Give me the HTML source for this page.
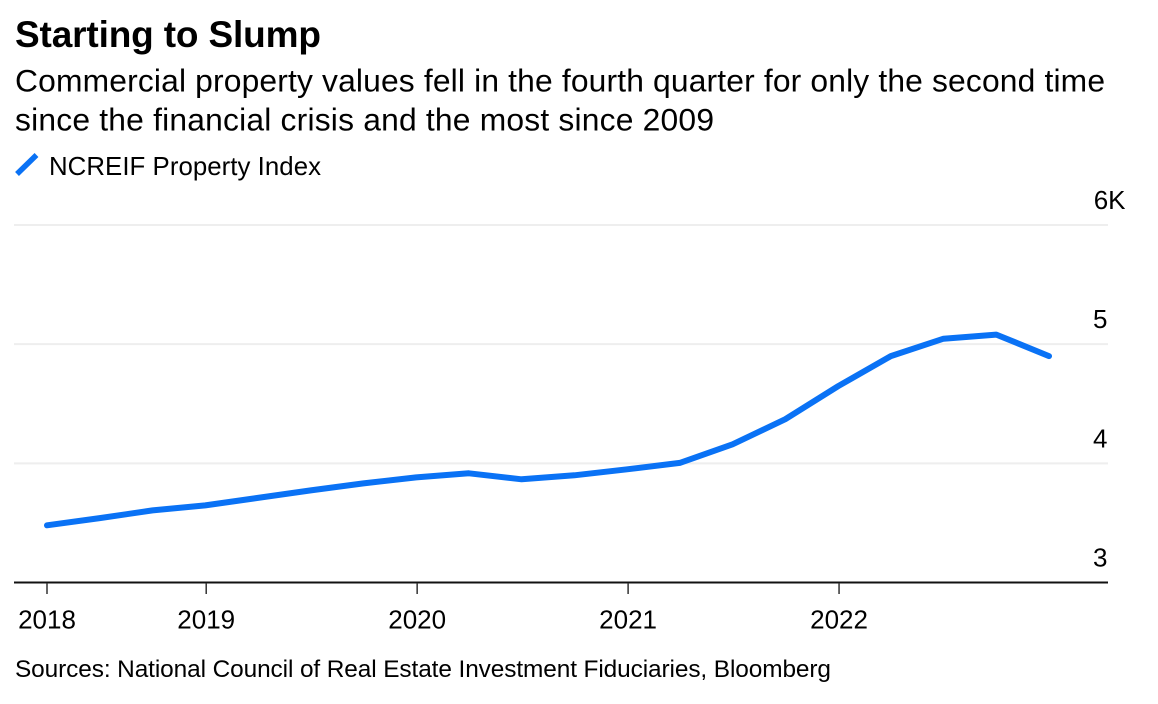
<!DOCTYPE html>
<html lang="en">
<head>
<meta charset="utf-8">
<title>Starting to Slump</title>
<style>
html,body{margin:0;padding:0;background:#fff;}
body{width:1158px;height:704px;overflow:hidden;}
svg{display:block;font-family:"Liberation Sans",Arial,sans-serif;fill:#000;}
</style>
</head>
<body>
<svg id="chart" width="1158" height="704" viewBox="0 0 1158 704" xmlns="http://www.w3.org/2000/svg">
  <rect x="0" y="0" width="1158" height="704" fill="#fff"/>
  <text x="15" y="47" font-size="37" font-weight="700" textLength="306" lengthAdjust="spacing">Starting to Slump</text>
  <text x="15" y="91.5" font-size="31.8" textLength="1090" lengthAdjust="spacing">Commercial property values fell in the fourth quarter for only the second time</text>
  <text x="15" y="130.5" font-size="31.8" textLength="699" lengthAdjust="spacing">since the financial crisis and the most since 2009</text>
  <line x1="17" y1="174" x2="36.5" y2="155" stroke="#0a72f5" stroke-width="5.5"/>
  <text x="49" y="175" font-size="25.8" textLength="272" lengthAdjust="spacing">NCREIF Property Index</text>
  <g id="grid"></g>
  <g id="y-labels"></g>
  <line x1="14" y1="582.5" x2="1108" y2="582.5" stroke="#111" stroke-width="2"/>
  <g id="x-axis"></g>
  <path id="series" fill="none" stroke="#0a72f5" stroke-width="6" stroke-linecap="round" stroke-linejoin="round"/>
  <text x="15" y="677" font-size="24.4" textLength="816" lengthAdjust="spacing">Sources: National Council of Real Estate Investment Fiduciaries, Bloomberg</text>
</svg>
<script>
const quarters = ["2018Q2","2018Q3","2018Q4","2019Q1","2019Q2","2019Q3","2019Q4","2020Q1","2020Q2","2020Q3","2020Q4","2021Q1","2021Q2","2021Q3","2021Q4","2022Q1","2022Q2","2022Q3","2022Q4","2023Q1"];
const indexValues = [3480,3540,3605,3647,3710,3773,3832,3882,3916,3866,3900,3950,4004,4160,4370,4647,4900,5046,5080,4900];
const yTicks = [3000,4000,5000,6000];
const yTickLabels = ["3","4","5","6K"];
const xTickQuarters = ["2018Q2","2019Q1","2020Q1","2021Q1","2022Q1"];
const xTickLabels = ["2018","2019","2020","2021","2022"];

const SVG_NS = "http://www.w3.org/2000/svg";
function xScale(i){ return 47 + i * (1049 - 47) / 19; }
function yScale(v){ return 582.5 - (v - 3000) * (582.5 - 225) / 3000; }

const gridGroup = document.getElementById("grid");
const yLabelGroup = document.getElementById("y-labels");
yTicks.forEach(function(t, i){
  if (t !== yTicks[0]) {
    const gl = document.createElementNS(SVG_NS, "line");
    
    
    gl.setAttribute("x1", 14);
    gl.setAttribute("x2", 1108);
    gl.setAttribute("y1", yScale(t));
    gl.setAttribute("y2", yScale(t));
    gl.setAttribute("stroke", "#eeeeee");
    gl.setAttribute("stroke-width", "2");
    gridGroup.appendChild(gl);
  }
  const lab = document.createElementNS(SVG_NS, "text");
  
  
  lab.setAttribute("x", yTickLabels[i].length > 1 ? 1125.5 : 1107.5);
  lab.setAttribute("y", yScale(t) - 16);
  lab.setAttribute("font-size", "26");
  lab.setAttribute("text-anchor", "end");
  lab.textContent = yTickLabels[i];
  yLabelGroup.appendChild(lab);
});

const xGroup = document.getElementById("x-axis");
xTickQuarters.forEach(function(q, i){
  const idx = quarters.indexOf(q);
  const x = xScale(idx) + (idx > 0 ? 1 : 0);
  const tick = document.createElementNS(SVG_NS, "line");
  
  
  tick.setAttribute("x1", x);
  tick.setAttribute("x2", x);
  tick.setAttribute("y1", 583);
  tick.setAttribute("y2", 594);
  tick.setAttribute("stroke", "#333");
  tick.setAttribute("stroke-width", "1.5");
  xGroup.appendChild(tick);
  const lab = document.createElementNS(SVG_NS, "text");
  
  
  lab.setAttribute("x", x);
  lab.setAttribute("y", 628.5);
  lab.setAttribute("font-size", "26");
  lab.setAttribute("text-anchor", "middle");
  lab.textContent = xTickLabels[i];
  xGroup.appendChild(lab);
});

document.getElementById("series").setAttribute("d", indexValues.map(function(v, i){
  return (i ? "L" : "M") + xScale(i).toFixed(1) + " " + yScale(v).toFixed(1);
}).join(" "));
</script>
</body>
</html>
